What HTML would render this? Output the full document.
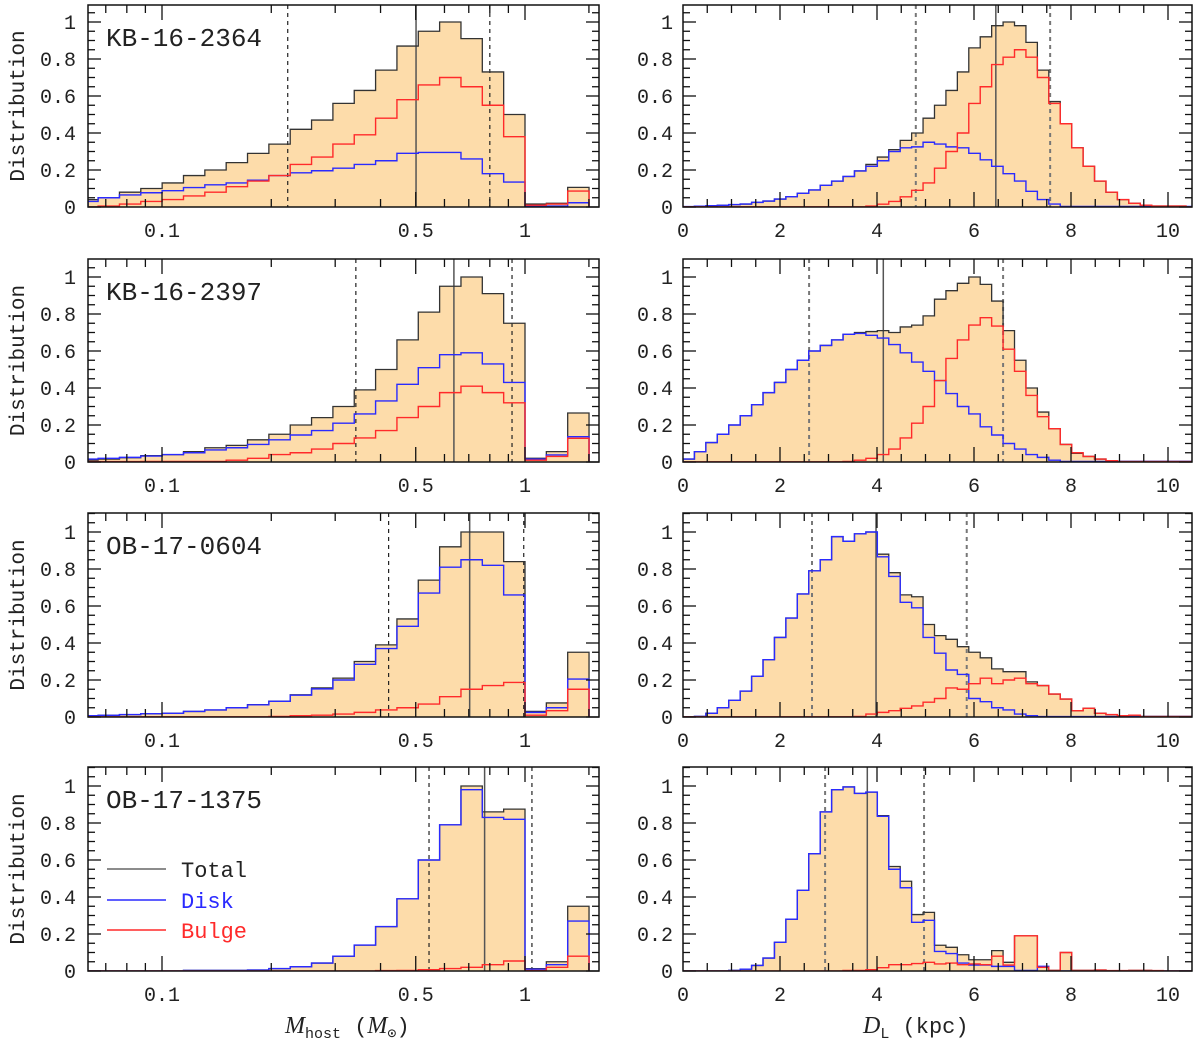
<!DOCTYPE html>
<html><head><meta charset="utf-8">
<style>
html,body{margin:0;padding:0;background:#fff;}
svg{display:block;}
text{font-family:"Liberation Mono","DejaVu Sans Mono",monospace;fill:#222;}
</style></head>
<body>
<svg id="fig" width="1200" height="1045" viewBox="0 0 1200 1045" xmlns="http://www.w3.org/2000/svg"></svg>
<script>
// ---------- data ----------
const eventNames = ["KB-16-2364","KB-16-2397","OB-17-0604","OB-17-1375"];
const massTotal = [
 [0.04,0.05,0.08,0.10,0.13,0.17,0.20,0.24,0.29,0.34,0.42,0.47,0.56,0.63,0.74,0.87,0.95,1.0,0.91,0.73,0.50,0.016,0.02,0.106],
 [0.01,0.016,0.023,0.034,0.04,0.056,0.077,0.09,0.12,0.15,0.2,0.24,0.30,0.39,0.50,0.66,0.81,0.95,1.0,0.91,0.75,0.02,0.056,0.265],
 [0.007,0.009,0.013,0.018,0.02,0.03,0.038,0.05,0.067,0.086,0.12,0.157,0.21,0.30,0.39,0.53,0.74,0.92,1.0,1.0,0.84,0.03,0.076,0.35],
 [0,0,0,0,0,0.003,0.003,0.003,0.005,0.013,0.023,0.043,0.08,0.14,0.24,0.39,0.60,0.79,1.0,0.86,0.875,0.013,0.05,0.35]];
const massDisk = [
 [0.03,0.05,0.065,0.077,0.088,0.105,0.12,0.13,0.145,0.17,0.185,0.196,0.21,0.23,0.25,0.29,0.295,0.295,0.26,0.18,0.135,0.005,0.005,0.023],
 [0.016,0.02,0.025,0.032,0.04,0.05,0.065,0.077,0.095,0.12,0.146,0.17,0.21,0.26,0.33,0.42,0.51,0.58,0.59,0.53,0.43,0.016,0.038,0.137],
 [0.007,0.009,0.013,0.018,0.02,0.03,0.038,0.05,0.066,0.085,0.118,0.152,0.20,0.285,0.37,0.49,0.67,0.81,0.85,0.82,0.66,0.025,0.05,0.205],
 [0,0,0,0,0,0.003,0.003,0.003,0.005,0.013,0.023,0.043,0.08,0.14,0.24,0.39,0.60,0.79,0.98,0.83,0.82,0.01,0.034,0.27]];
const massBulge = [
 [0.0,0.005,0.016,0.03,0.04,0.06,0.08,0.11,0.14,0.17,0.23,0.27,0.34,0.39,0.48,0.58,0.66,0.70,0.65,0.55,0.38,0.01,0.016,0.086],
 [0.002,0.002,0.002,0.003,0.003,0.003,0.003,0.01,0.02,0.04,0.05,0.07,0.10,0.13,0.17,0.24,0.30,0.375,0.41,0.375,0.32,0.01,0.03,0.128],
 [0.001,0.001,0.001,0.001,0.001,0.001,0.001,0.001,0.001,0.003,0.007,0.01,0.016,0.025,0.038,0.05,0.07,0.11,0.15,0.17,0.187,0.01,0.034,0.15],
 [0,0,0,0,0,0,0,0,0,0,0,0,0,0,0.002,0.003,0.007,0.013,0.02,0.034,0.054,0.002,0.02,0.08]];
const distTotal = [
 [0.002,0.004,0.007,0.009,0.013,0.016,0.025,0.032,0.043,0.056,0.074,0.092,0.117,0.14,0.165,0.195,0.23,0.27,0.31,0.36,0.40,0.48,0.55,0.63,0.73,0.86,0.92,0.98,1.0,0.98,0.89,0.74,0.57,0.45,0.32,0.22,0.14,0.08,0.04,0.02,0.01,0.005,0.005,0.005,0],
 [0.016,0.056,0.105,0.15,0.2,0.25,0.31,0.375,0.43,0.50,0.55,0.60,0.63,0.66,0.69,0.70,0.705,0.71,0.70,0.73,0.74,0.79,0.88,0.926,0.966,1.0,0.96,0.87,0.71,0.55,0.40,0.27,0.18,0.095,0.047,0.03,0.016,0.007,0.003,0.003,0.003,0.003,0.003,0.003,0.003],
 [0,0.003,0.02,0.05,0.09,0.14,0.22,0.31,0.43,0.535,0.665,0.79,0.85,0.975,0.95,0.99,1.0,0.88,0.78,0.66,0.65,0.50,0.44,0.42,0.38,0.35,0.32,0.26,0.245,0.245,0.19,0.17,0.124,0.097,0.034,0.047,0.02,0.013,0.007,0.01,0.003,0.003,0.003,0.003,0.003],
 [0,0,0,0,0.003,0.01,0.03,0.07,0.155,0.28,0.436,0.634,0.86,0.98,0.995,0.96,0.967,0.84,0.565,0.485,0.305,0.317,0.139,0.128,0.088,0.061,0.061,0.11,0.047,0.19,0.19,0.02,0.003,0.10,0.003,0.003,0.005,0.002,0.002,0.003,0.003,0.002,0,0,0]];
const distDisk = [
 [0.002,0.004,0.007,0.009,0.013,0.016,0.025,0.032,0.043,0.056,0.074,0.092,0.117,0.14,0.165,0.195,0.22,0.25,0.30,0.32,0.325,0.35,0.34,0.325,0.32,0.29,0.255,0.22,0.18,0.14,0.085,0.04,0.016,0.003,0.003,0.003,0.003,0.003,0.003,0.003,0.003,0.003,0.003,0.003,0.003],
 [0.016,0.056,0.105,0.15,0.2,0.25,0.31,0.375,0.43,0.50,0.55,0.60,0.63,0.66,0.69,0.695,0.685,0.67,0.635,0.59,0.54,0.49,0.44,0.37,0.30,0.26,0.19,0.146,0.10,0.07,0.04,0.025,0.01,0.003,0.003,0.003,0.003,0.003,0.003,0.003,0.003,0.003,0.003,0.003,0.003],
 [0,0.003,0.02,0.05,0.09,0.14,0.22,0.31,0.43,0.535,0.665,0.79,0.85,0.975,0.95,0.99,1.0,0.866,0.76,0.62,0.59,0.43,0.345,0.254,0.23,0.10,0.083,0.05,0.038,0.016,0.007,0.002,0.002,0.002,0.002,0.002,0.002,0.002,0.002,0.002,0.002,0.002,0.002,0.002,0.002],
 [0,0,0,0,0.003,0.01,0.03,0.07,0.155,0.28,0.436,0.634,0.86,0.98,0.995,0.96,0.967,0.836,0.55,0.45,0.263,0.274,0.106,0.094,0.043,0.032,0.032,0.025,0.025,0.003,0.003,0.025,0,0,0,0,0,0,0,0,0,0,0,0,0]];
const distBulge = [
 [0.001,0.001,0.001,0.001,0.001,0.001,0.001,0.001,0.001,0.001,0.001,0.001,0.001,0.001,0.001,0.001,0.005,0.015,0.03,0.055,0.09,0.13,0.21,0.30,0.40,0.56,0.65,0.77,0.81,0.85,0.81,0.70,0.56,0.45,0.32,0.22,0.14,0.08,0.04,0.02,0.01,0.005,0.005,0.005,0],
 [0.001,0.001,0.001,0.001,0.001,0.001,0.001,0.001,0.001,0.001,0.001,0.001,0.001,0.001,0.003,0.01,0.02,0.04,0.07,0.13,0.21,0.30,0.44,0.56,0.66,0.74,0.78,0.735,0.61,0.49,0.36,0.245,0.18,0.095,0.05,0.03,0.016,0.007,0.002,0.002,0.002,0.002,0.002,0.002,0.002],
 [0.001,0.001,0.001,0.001,0.001,0.001,0.001,0.001,0.001,0.001,0.001,0.001,0.001,0.001,0.001,0.003,0.016,0.025,0.034,0.047,0.06,0.08,0.10,0.157,0.15,0.18,0.21,0.18,0.2,0.21,0.18,0.17,0.124,0.097,0.034,0.047,0.02,0.013,0.007,0.01,0.002,0.002,0.002,0.002,0.002],
 [0,0,0,0,0,0,0,0,0,0,0,0,0,0,0.003,0.003,0.007,0.018,0.034,0.034,0.04,0.047,0.038,0.043,0.034,0.038,0.034,0.08,0.032,0.19,0.19,0.02,0.003,0.10,0.003,0.003,0.005,0.002,0.002,0.003,0.003,0.002,0,0,0]];
const massLow = [0.222,0.342,0.421,0.544];
const massMed = [0.501,0.637,0.704,0.774];
const massHigh = [0.80,0.921,0.992,1.045];
const distLow = [4.8,2.6,2.66,2.93];
const distMed = [6.45,4.13,3.98,3.80];
const distHigh = [7.57,6.6,5.85,4.97];
const yTickLabels = ["0","0.2","0.4","0.6","0.8","1"];
const massTickLabels = ["0.1","0.5","1"];
const distTickLabels = ["0","2","4","6","8","10"];

// ---------- layout ----------
const NS="http://www.w3.org/2000/svg";
const svg=document.getElementById('fig');
const LX0=88,LX1=599,RX0=683,RX1=1192;
const tops=[5,259,513,767], bots=[207,462,717,971];
const Y_UNIT=185;
const logMin=-1.204;
const xM=m=>162+363*(Math.log10(m)+1);
const xMl=l=>162+363*(l+1);
const xD=d=>683+48.5*d;
const DBIN=0.2357;
const massEdges=[logMin];
for(let j=0;j<24;j++) massEdges.push(-1.176+0.0588*j);

function el(tag,attrs,parent){const e=document.createElementNS(NS,tag);for(const k in attrs)e.setAttribute(k,attrs[k]);(parent||svg).appendChild(e);return e;}

function stepPath(vals,xs,yf,bottom,closed){
  let d='M'+xs(0)+' '+bottom;
  for(let i=0;i<vals.length;i++){d+=' L'+xs(i)+' '+yf(vals[i])+' L'+xs(i+1)+' '+yf(vals[i]);}
  d+=' L'+xs(vals.length)+' '+bottom;
  if(closed)d+=' Z';
  return d;
}

for(let r=0;r<4;r++){
  const top=tops[r],bot=bots[r];
  const yf=v=>Math.max(top,bot-Y_UNIT*v);
  for(let side=0;side<2;side++){
    const x0=side?RX0:LX0,x1=side?RX1:LX1;
    const g=el('g',{});
    
    
    const clipId='clip'+r+side;
    const cp=el('clipPath',{id:clipId},g);
    el('rect',{x:x0,y:top,width:x1-x0,height:bot-top},cp);
    const plot=el('g',{'clip-path':'url(#'+clipId+')'},g);
    let xs,tot,disk,bul,lo,md,hi,xv;
    if(!side){
      xs=i=>xMl(massEdges[i]);
      tot=massTotal[r];disk=massDisk[r];bul=massBulge[r];
      xv=xM;lo=massLow[r];md=massMed[r];hi=massHigh[r];
    } else {
      xs=i=>xD(i*DBIN);
      tot=distTotal[r];disk=distDisk[r];bul=distBulge[r];
      xv=xD;lo=distLow[r];md=distMed[r];hi=distHigh[r];
    }
    const fill=el('path',{d:stepPath(tot,xs,yf,bot,true),fill:'#fddcaa',stroke:'none'},plot);
    
    
    const ld=el('line',{x1:xv(lo),x2:xv(lo),y1:top,y2:bot,stroke:side?'#777':'#222','stroke-width':side?2:1.2,'stroke-dasharray':'4 4'},plot);
    
    
    const lh=el('line',{x1:xv(hi),x2:xv(hi),y1:top,y2:bot,stroke:side?'#777':'#222','stroke-width':side?2:1.2,'stroke-dasharray':'4 4'},plot);
    
    
    const lm=el('line',{x1:xv(md),x2:xv(md),y1:top,y2:bot,stroke:'#555','stroke-width':1.5},plot);
    
    
    const pt=el('path',{d:stepPath(tot,xs,yf,bot,false),fill:'none',stroke:'#333','stroke-width':1.3},plot);
    
    
    const pb=el('path',{d:stepPath(disk,xs,yf,bot,false),fill:'none',stroke:'#2a2aff','stroke-width':1.4},plot);
    
    
    const pr=el('path',{d:stepPath(bul,xs,yf,bot,false),fill:'none',stroke:'#ff2a2a','stroke-width':1.4},plot);
    
    
    const fr=el('rect',{x:x0,y:top,width:x1-x0,height:bot-top,fill:'none',stroke:'#111','stroke-width':1.5},g);
    
    
    for(let k=0;k*0.05<=(bot-top)/Y_UNIT+0.001;k++){
      const yy=bot-Y_UNIT*0.05*k; const major=k%4===0; const L=major?13:7;
      el('line',{x1:x0,x2:x0+L,y1:yy,y2:yy,stroke:'#111','stroke-width':1.3},g);
      el('line',{x1:x1,x2:x1-L,y1:yy,y2:yy,stroke:'#111','stroke-width':1.3},g);
    }
    yTickLabels.forEach((t,i)=>{
      const tx=el('text',{x:side?673:76,y:bot-Y_UNIT*0.2*i+7,'text-anchor':'end','font-size':20},g);
      tx.textContent=t;
      
      
    });
    let ticks=[];
    if(!side){
      [0.07,0.08,0.09,0.2,0.3,0.4,0.6,0.7,0.8,0.9,1.5].forEach(m=>ticks.push([xM(m),false]));
      [0.1,0.5,1].forEach(m=>ticks.push([xM(m),true]));
    } else {
      for(let k=1;k<=21;k++){ticks.push([xD(k*0.5),k%4===0]);}
    }
    ticks.forEach(([xx,major])=>{
      if(xx<=x0||xx>=x1)return; const L=major?15:8;
      el('line',{x1:xx,x2:xx,y1:top,y2:top+L,stroke:'#111','stroke-width':1.3},g);
      el('line',{x1:xx,x2:xx,y1:bot,y2:bot-L,stroke:'#111','stroke-width':1.3},g);
    });
    const labs=side?distTickLabels:massTickLabels;
    labs.forEach(t=>{
      const xx=side?xD(parseFloat(t)):xM(parseFloat(t));
      const tx=el('text',{x:xx,y:bot+30,'text-anchor':'middle','font-size':20},g);
      tx.textContent=t;
      
      
    });
    if(!side){
      const nm=el('text',{x:106,y:top+41,'font-size':26},g);
      nm.textContent=eventNames[r];
      
      
      const yl=el('text',{x:0,y:0,'font-size':21,'text-anchor':'middle',transform:'translate(24,'+((top+bot)/2)+') rotate(-90)'},g);
      yl.textContent='Distribution';
      
      
    }
  }
}
const legend=el('g',{});


[["Total","#666",869],["Disk","#2a2aff",900],["Bulge","#ff2a2a",930]].forEach(([t,c,yy])=>{
  const ln=el('line',{x1:107,x2:166,y1:yy,y2:yy,stroke:c,'stroke-width':1.5},legend);
  
  
  const tx=el('text',{x:181,y:yy+8,'font-size':22},legend);
  tx.setAttribute('style','fill:'+(c==="#666"?"#222":c));
  tx.textContent=t;
  
  
});
const xt1=el('text',{x:285,y:1033,'font-size':22});
xt1.innerHTML='<tspan font-family="Liberation Serif" font-style="italic" font-size="24">M</tspan><tspan font-size="15" dy="5">host</tspan><tspan dy="-5"> (</tspan><tspan font-family="Liberation Serif" font-style="italic" font-size="24">M</tspan><tspan font-size="15" dy="5">⊙</tspan><tspan dy="-5">)</tspan>';


const xt2=el('text',{x:863,y:1033,'font-size':22});
xt2.innerHTML='<tspan font-family="Liberation Serif" font-style="italic" font-size="24">D</tspan><tspan font-size="15" dy="5">L</tspan><tspan dy="-5"> (kpc)</tspan>';


</script>
</body></html>
